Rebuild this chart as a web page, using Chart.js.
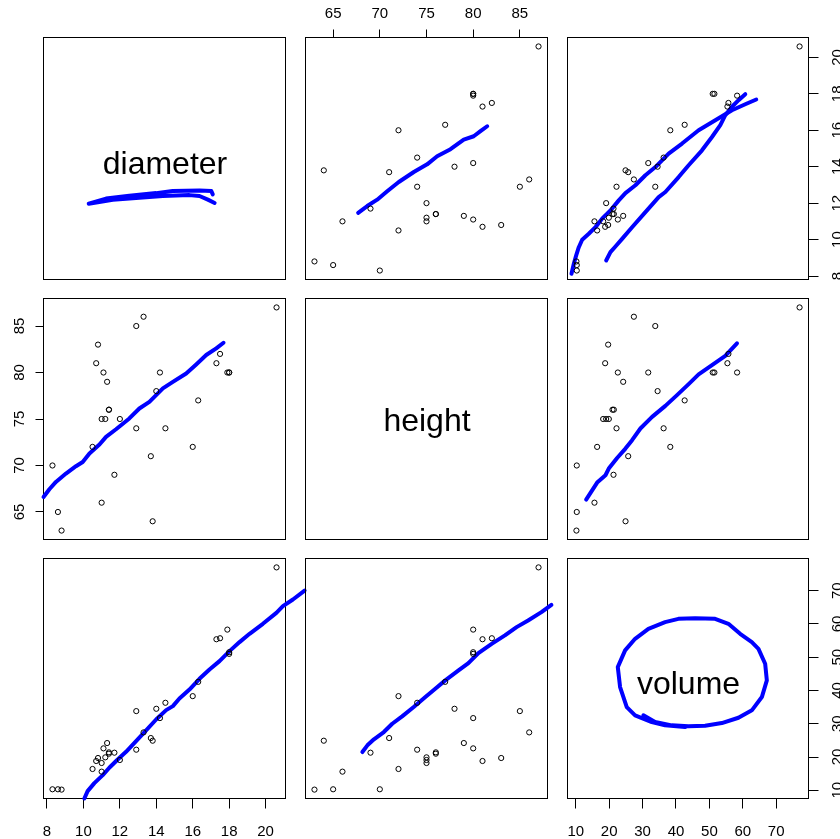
<!DOCTYPE html>
<html>
<head>
<meta charset="utf-8">
<script src="https://cdn.jsdelivr.net/npm/chart.js@4.4.0/dist/chart.umd.min.js"></script>
<style>
  body { margin: 0; background: #fff; }
  #wrap { position: relative; width: 840px; height: 839px; overflow: hidden; }
  #wrap canvas { position: absolute; left: 0; top: 0; }
</style>
</head>
<body>
<div id="wrap"></div>
<script>
// trees data
const diameter = [8.3, 8.6, 8.8, 10.5, 10.7, 10.8, 11.0, 11.0, 11.1, 11.2, 11.3, 11.4, 11.4, 11.7, 12.0, 12.9,
  12.9, 13.3, 13.7, 13.8, 14.0, 14.2, 14.5, 16.0, 16.3, 17.3, 17.5, 17.9, 18.0, 18.0, 20.6];
const height = [70, 65, 63, 72, 81, 83, 66, 75, 80, 75, 79, 76, 76, 69, 75, 74, 85, 86, 71, 64, 78, 80, 74, 72,
  77, 81, 82, 80, 80, 80, 87];
const volume = [10.3, 10.3, 10.2, 16.4, 18.8, 19.7, 15.6, 18.2, 22.6, 19.9, 24.2, 21.0, 21.4, 21.3, 19.1, 22.2,
  33.8, 27.4, 25.7, 24.9, 34.5, 31.7, 36.3, 38.3, 42.6, 55.4, 55.7, 58.3, 51.5, 51.0, 77.0];
const varNames = ['diameter', 'height', 'volume'];

const diameterTicks = [8, 10, 12, 14, 16, 18, 20];
const heightTicks = [65, 70, 75, 80, 85];
const volumeTicks = [10, 20, 30, 40, 50, 60, 70];

// blue curves
// row 1
const diaLoopX = [17.20, 16.83, 16.37, 15.82, 14.36, 13.07, 11.61, 10.29, 11.24, 12.52, 13.99, 14.90, 16.37, 17.02, 17.10];
const diaLoopY = [12.01, 12.19, 12.39, 12.44, 12.39, 12.30, 12.19, 11.97, 12.25, 12.41, 12.55, 12.66, 12.70, 12.66, 12.48];
const diaByHeightX = [67.68, 68.65, 69.72, 70.79, 72.03, 73.64, 75.07, 76.14, 77.57, 78.99, 80.06, 80.78, 81.50];
const diaByHeightY = [11.47, 11.84, 12.19, 12.65, 13.16, 13.71, 14.13, 14.57, 14.96, 15.49, 15.67, 15.95, 16.22];
const diaByVolAX = [8.72, 9.42, 10.13, 10.91, 11.92, 13.90, 15.90, 17.90, 20.38, 22.87, 24.87, 27.86, 30.85, 33.84,
  37.81, 41.82, 46.78, 51.77, 56.76, 60.74, 64.03];
const diaByVolAY = [8.12, 8.67, 9.13, 9.58, 9.99, 10.32, 10.68, 11.15, 11.60, 12.15, 12.55, 12.98, 13.53, 13.98,
  14.72, 15.27, 16.00, 16.55, 17.10, 17.43, 17.69];
const diaByVolBX = [19.10, 20.38, 21.88, 23.87, 26.86, 30.85, 34.82, 36.82, 40.80, 43.79, 47.79, 50.78, 53.27,
  54.76, 56.76, 58.74, 60.74];
const diaByVolBY = [8.85, 9.31, 9.62, 10.04, 10.68, 11.51, 12.33, 12.61, 13.43, 14.08, 14.90, 15.63, 16.28,
  16.83, 17.29, 17.65, 17.98];
// row 2
const heightByDiaX = [7.81, 8.13, 8.49, 9.04, 9.59, 9.96, 10.33, 10.88, 11.24, 11.79, 12.52, 13.07, 13.62, 14.36,
  14.91, 15.64, 16.19, 16.74, 17.29, 17.69];
const heightByDiaY = [66.61, 67.44, 68.23, 69.13, 69.92, 70.38, 71.29, 72.26, 73.08, 73.90, 75.06, 76.13, 76.85,
  78.29, 79.00, 79.90, 80.87, 81.88, 82.60, 83.20];
const heightByVolX = [13.11, 14.90, 16.40, 18.89, 19.88, 22.38, 24.87, 26.86, 29.35, 32.85, 36.82, 40.31, 43.79,
  46.78, 50.78, 54.76, 58.26];
const heightByVolY = [66.33, 67.33, 68.16, 68.95, 69.67, 70.81, 71.82, 72.72, 73.98, 75.23, 76.41, 77.57, 78.75,
  79.80, 80.80, 81.80, 83.14];
// row 3
const volByDiaX = [10.05, 10.23, 10.60, 11.06, 11.42, 11.88, 12.34, 12.89, 13.44, 13.99, 14.54, 14.91, 15.27,
  15.82, 16.37, 16.92, 17.47, 18.02, 18.57, 19.12, 19.85, 20.59, 20.95, 21.50, 22.14];
const volByDiaY = [7.53, 9.75, 12.16, 14.56, 16.76, 19.25, 21.56, 24.78, 27.97, 31.27, 34.10, 35.30, 37.58,
  40.29, 43.51, 46.30, 48.82, 51.83, 54.54, 57.03, 60.04, 63.34, 65.35, 67.34, 70.04];
const volByHeightX = [68.13, 68.67, 69.37, 70.43, 71.33, 72.39, 73.63, 74.88, 75.94, 77.01, 78.43, 79.49, 80.56,
  81.98, 83.40, 84.65, 85.88, 87.31, 88.38];
const volByHeightY = [21.50, 23.51, 25.32, 27.51, 30.00, 32.22, 35.02, 38.02, 40.51, 43.03, 46.04, 48.23, 51.23,
  54.02, 56.55, 59.04, 61.05, 63.54, 65.74];
const volLoopX = [30.25, 33.75, 38.75, 43.72, 48.72, 53.73, 58.70, 62.71, 65.71, 67.20, 66.70, 64.69, 62.71, 59.21,
  55.70, 51.72, 45.73, 40.73, 36.74, 31.74, 27.76, 24.77, 22.58, 23.27, 25.27, 27.76, 32.76, 36.74, 42.73];
const volLoopY = [32.52, 30.51, 29.52, 29.22, 29.40, 30.21, 31.80, 34.02, 38.02, 43.03, 48.02, 52.52, 54.53, 57.03,
  60.03, 61.53, 61.74, 61.53, 60.54, 58.53, 55.53, 52.04, 47.03, 41.02, 35.02, 32.52, 30.51, 29.52, 29.01];

const W = 840, H = 839;
const colEdges = [[43.5, 285.5], [305.5, 547.5], [567.5, 808.5]];
const rowEdges = [[37.5, 279.5], [298.5, 539.5], [558.5, 798.5]];
const FONT = "'Liberation Sans', Arial, Helvetica, sans-serif";

// like R: data range plus 4% each side
function extRange(v) {
  const lo = Math.min(...v), hi = Math.max(...v), d = (hi - lo) * 0.04;
  return [lo - d, hi + d];
}
function pts(xs, ys) {
  return xs.map((x, k) => ({ x: x, y: ys[k] }));
}

const vars = [diameter, height, volume];
const ticksFor = [diameterTicks, heightTicks, volumeTicks];
const ranges = vars.map(extRange);

const curves = {
  '0,0': [pts(diaLoopX, diaLoopY)],
  '0,1': [pts(diaByHeightX, diaByHeightY)],
  '0,2': [pts(diaByVolAX, diaByVolAY), pts(diaByVolBX, diaByVolBY)],
  '1,0': [pts(heightByDiaX, heightByDiaY)],
  '1,2': [pts(heightByVolX, heightByVolY)],
  '2,0': [pts(volByDiaX, volByDiaY)],
  '2,1': [pts(volByHeightX, volByHeightY)],
  '2,2': [pts(volLoopX, volLoopY)]
};

// box, diagonal names, rotated y tick labels
const panelPlugin = {
  id: 'panel',
  beforeDatasetsDraw(chart) {
    const a = chart.chartArea, ctx = chart.ctx;
    ctx.save();
    ctx.strokeStyle = '#000';
    ctx.lineWidth = 1;
    ctx.strokeRect(a.left, a.top, a.right - a.left, a.bottom - a.top);
    ctx.restore();
  },
  afterDraw(chart, args, opts) {
    const a = chart.chartArea, ctx = chart.ctx;
    if (opts.label) {
      ctx.save();
      ctx.font = '32px ' + FONT;
      ctx.fillStyle = '#000';
      ctx.textAlign = 'center';
      ctx.textBaseline = 'alphabetic';
      const m = ctx.measureText(opts.label);
      const cy = (a.top + a.bottom) / 2 + 3.5;
      ctx.fillText(opts.label, (a.left + a.right) / 2 + 0.5,
        cy + (m.actualBoundingBoxAscent - m.actualBoundingBoxDescent) / 2);
      ctx.restore();
    }
    if (opts.ySide) {
      const s = chart.scales.y;
      const px = opts.ySide === 'left' ? s.right - 24 : s.left + 29.5;
      s.ticks.forEach(t => {
        ctx.save();
        ctx.font = '15px ' + FONT;
        ctx.fillStyle = '#000';
        ctx.textAlign = 'center';
        ctx.textBaseline = 'middle';
        ctx.translate(px, s.getPixelForValue(t.value));
        ctx.rotate(-Math.PI / 2);
        ctx.fillText(t.label, 0, 0);
        ctx.restore();
      });
    }
  }
};

// limits are set in afterDataLimits (not min/max) so Chart.js keeps
// the curve points that run past the panel edge, as R does
function scaleCfg(axis, vi, show, position, size, tickLen, pad) {
  return {
    type: 'linear',
    position: position,
    display: show,
    bounds: 'data',
    afterDataLimits: s => { s.min = ranges[vi][0]; s.max = ranges[vi][1]; },
    afterBuildTicks: s => { s.ticks = ticksFor[vi].map(v => ({ value: v })); },
    afterFit: s => {
      if (!show) return;
      if (axis === 'x') s.height = size; else s.width = size;
    },
    grid: { display: true, drawOnChartArea: false, drawTicks: true, tickLength: tickLen, color: '#000', lineWidth: 1 },
    border: { display: false },
    ticks: {
      display: axis === 'x',
      color: '#000',
      font: { family: FONT, size: 15 },
      padding: pad,
      minRotation: 0,
      maxRotation: 0,
      autoSkip: false
    }
  };
}

const wrap = document.getElementById('wrap');

for (let i = 0; i < 3; i++) {
  for (let j = 0; j < 3; j++) {
    const canvas = document.createElement('canvas');
    canvas.width = W;
    canvas.height = H;
    wrap.appendChild(canvas);

    const L = colEdges[j][0], R = colEdges[j][1];
    const T = rowEdges[i][0], B = rowEdges[i][1];
    const xTop = i === 0 && j === 1;
    const xBottom = i === 2 && j !== 1;
    const yLeft = i === 1 && j === 0;
    const yRight = i !== 1 && j === 2;

    const datasets = [];
    if (i !== j) {
      datasets.push({
        data: pts(vars[j], vars[i]),
        showLine: false,
        pointRadius: 2.6,
        pointHoverRadius: 2.6,
        pointBorderWidth: 1,
        pointBorderColor: '#000',
        pointBackgroundColor: 'rgba(0,0,0,0)'
      });
    }
    (curves[i + ',' + j] || []).forEach(c => {
      datasets.push({
        data: c,
        showLine: true,
        borderColor: '#0000ff',
        borderWidth: 4,
        borderCapStyle: 'round',
        borderJoinStyle: 'round',
        pointRadius: 0,
        pointHoverRadius: 0,
        fill: false,
        tension: 0,
        clip: false
      });
    });

    new Chart(canvas, {
      type: 'scatter',
      data: { datasets: datasets },
      options: {
        responsive: false,
        animation: false,
        events: [],
        layout: {
          padding: {
            left: yLeft ? 0 : L,
            right: yRight ? 0 : W - R,
            top: xTop ? 0 : T,
            bottom: xBottom ? 0 : H - B
          }
        },
        scales: {
          x: scaleCfg('x', j, xTop || xBottom, xTop ? 'top' : 'bottom', xTop ? T : H - B, xTop ? 8 : 10, xTop ? 7 : 14.5),
          y: scaleCfg('y', i, yLeft || yRight, yLeft ? 'left' : 'right', yLeft ? L : W - R, yLeft ? 8 : 10, 0)
        },
        plugins: {
          legend: { display: false },
          tooltip: { enabled: false },
          panel: {
            label: i === j ? varNames[i] : null,
            ySide: yLeft ? 'left' : (yRight ? 'right' : null)
          }
        }
      },
      plugins: [panelPlugin]
    });
  }
}
</script>
</body>
</html>
